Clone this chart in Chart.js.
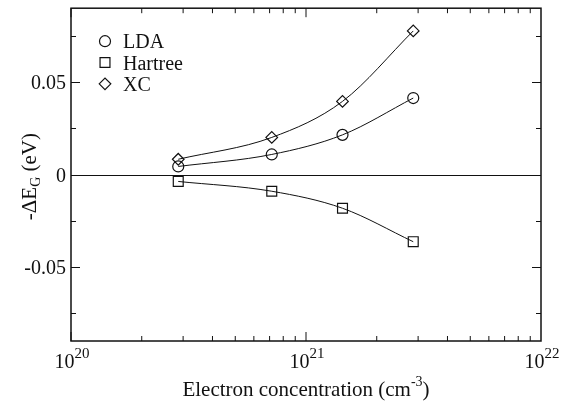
<!DOCTYPE html>
<html>
<head>
<meta charset="utf-8">
<title>Band gap shift vs electron concentration</title>
<script src="https://cdn.jsdelivr.net/npm/chart.js@4/dist/chart.umd.min.js"></script>
<style>
  html, body { margin: 0; padding: 0; background: #fff; }
  #wrap { width: 572px; height: 405px; }
  .fontwarm { font-family: "Liberation Serif"; position: absolute; left: -999px; top: 0; }
</style>
</head>
<body>
<span class="fontwarm">Electron ΔE 0.05</span>
<div id="wrap"><canvas id="gap-chart" width="572" height="405"></canvas></div>
<script>
// electron concentration (cm^-3) and band gap shift -dE_G (eV)
const concentration = [2.86e20, 7.15e20, 1.43e21, 2.86e21];
const ldaShift = [0.0044, 0.0109, 0.0215, 0.0414];
const hartreeShift = [-0.0037, -0.0090, -0.0182, -0.0363];
const xcShift = [0.0083, 0.0201, 0.0396, 0.0777];

const seriesNames = ['LDA', 'Hartree', 'XC'];
const seriesMarks = ['circle', 'rect', 'rectRot'];

// axis ticks
const xMajor = [1e20, 1e21, 1e22];
const xMajorExp = ['20', '21', '22'];
const yMajor = [-0.05, 0, 0.05];
const yMajorLabels = ['-0.05', '0', '0.05'];
const yMinor = [-0.075, -0.025, 0.025, 0.075];

const serif = '"Liberation Serif", "DejaVu Serif", serif';
const ink = '#111';

function points(ys) {
    return concentration.map((x, i) => ({ x: x, y: ys[i] }));
}

function makeSet(label, ys, style, radius) {
    return {
        label: label,
        data: points(ys),
        showLine: true,
        cubicInterpolationMode: 'monotone',
        borderColor: ink,
        borderWidth: 1,
        pointStyle: style,
        pointRadius: radius,
        pointBorderWidth: 1.2,
        pointBorderColor: ink,
        pointBackgroundColor: 'rgba(0,0,0,0)'
    };
}

// marker shapes for the legend (same geometry Chart.js uses)
function drawMark(ctx, style, x, y, r) {
    ctx.beginPath();
    if (style === 'circle') {
        ctx.arc(x, y, r, 0, Math.PI * 2);
    } else if (style === 'rect') {
        const s = Math.SQRT1_2 * r;
        ctx.rect(x - s, y - s, 2 * s, 2 * s);
    } else {
        ctx.moveTo(x - r, y);
        ctx.lineTo(x, y - r);
        ctx.lineTo(x + r, y);
        ctx.lineTo(x, y + r);
        ctx.closePath();
    }
    ctx.stroke();
}

// text with a raised or lowered part, returns total width
function richText(ctx, parts, x, y, measureOnly) {
    let cx = x;
    parts.forEach(p => {
        ctx.font = p.size + 'px ' + serif;
        if (!measureOnly) ctx.fillText(p.t, cx, y + (p.dy || 0));
        cx += ctx.measureText(p.t).width;
    });
    return cx - x;
}

const zeroLine = {
    id: 'zeroLine',
    beforeDatasetsDraw(chart) {
        const { ctx, chartArea, scales } = chart;
        const y0 = Math.round(scales.y.getPixelForValue(0)) + 0.5;
        ctx.save();
        ctx.strokeStyle = ink;
        ctx.lineWidth = 1;
        ctx.beginPath();
        ctx.moveTo(chartArea.left, y0);
        ctx.lineTo(chartArea.right, y0);
        ctx.stroke();
        ctx.restore();
    }
};

const frame = {
    id: 'frame',
    afterDatasetsDraw(chart) {
        const { ctx, chartArea: a, scales } = chart;
        const xs = scales.x, ys = scales.y;
        ctx.save();
        ctx.strokeStyle = ink;
        ctx.fillStyle = ink;

        // box
        ctx.lineWidth = 1.5;
        ctx.strokeRect(a.left, a.top, a.right - a.left, a.bottom - a.top);

        // inward ticks on all four sides
        ctx.lineWidth = 1;
        ctx.beginPath();
        for (let d = 20; d < 22; d++) {
            for (let m = 1; m <= 9; m++) {
                const v = m * Math.pow(10, d);
                const px = xs.getPixelForValue(v);
                const len = m === 1 ? 9 : 5;
                ctx.moveTo(px, a.bottom); ctx.lineTo(px, a.bottom - len);
                ctx.moveTo(px, a.top); ctx.lineTo(px, a.top + len);
            }
        }
        yMajor.concat(yMinor).forEach(v => {
            const py = Math.round(ys.getPixelForValue(v)) + 0.5;
            const len = yMajor.includes(v) ? 9 : 5;
            ctx.moveTo(a.left, py); ctx.lineTo(a.left + len, py);
            ctx.moveTo(a.right, py); ctx.lineTo(a.right - len, py);
        });
        ctx.stroke();

        // y tick labels
        ctx.font = '20px ' + serif;
        ctx.textAlign = 'right';
        ctx.textBaseline = 'alphabetic';
        yMajor.forEach((v, i) => {
            ctx.fillText(yMajorLabels[i], a.left - 5, ys.getPixelForValue(v) + 7);
        });

        // x tick labels 10^n
        ctx.textAlign = 'left';
        xMajor.forEach((v, i) => {
            const parts = [{ t: '10', size: 20 }, { t: xMajorExp[i], size: 15, dy: -10 }];
            const w = richText(ctx, parts, 0, 0, true);
            richText(ctx, parts, xs.getPixelForValue(v) - w / 2 + 1, a.bottom + 27);
        });

        // x axis title
        const xTitle = [
            { t: 'Electron concentration (cm', size: 21 },
            { t: '-3', size: 14, dy: -10 },
            { t: ')', size: 21 }
        ];
        const tw = richText(ctx, xTitle, 0, 0, true);
        richText(ctx, xTitle, (a.left + a.right) / 2 - tw / 2, a.bottom + 55);

        // y axis title, rotated
        const yTitle = [
            { t: '-\u0394E', size: 21 },
            { t: 'G', size: 14, dy: 4 },
            { t: ' (eV)', size: 21 }
        ];
        const th = richText(ctx, yTitle, 0, 0, true);
        ctx.translate(36, (a.top + a.bottom) / 2 + 2);
        ctx.rotate(-Math.PI / 2);
        richText(ctx, yTitle, -th / 2, 0);
        ctx.restore();

        // legend in the upper left corner
        ctx.save();
        ctx.strokeStyle = ink;
        ctx.fillStyle = ink;
        ctx.lineWidth = 1.2;
        ctx.font = '20px ' + serif;
        ctx.textBaseline = 'alphabetic';
        chart.data.datasets.forEach((ds, i) => {
            const cy = a.top + 33 + i * 21.3;
            drawMark(ctx, seriesMarks[i], a.left + 34, cy, ds.pointRadius);
            ctx.fillText(seriesNames[i], a.left + 52, cy + 7);
        });
        ctx.restore();
    }
};

function buildChart() {
    const ctx = document.getElementById('gap-chart').getContext('2d');
    return new Chart(ctx, {
        type: 'scatter',
        data: {
            datasets: [
                makeSet(seriesNames[0], ldaShift, seriesMarks[0], 5.5),
                makeSet(seriesNames[1], hartreeShift, seriesMarks[1], 7),
                makeSet(seriesNames[2], xcShift, seriesMarks[2], 5.8)
            ]
        },
        options: {
            responsive: false,
            animation: false,
            layout: { padding: { left: 71, right: 31, top: 4, bottom: 64 } },
            plugins: {
                legend: { display: false },
                tooltip: { enabled: false }
            },
            scales: {
                x: { type: 'logarithmic', min: 1e20, max: 1e22, display: false },
                y: { type: 'linear', min: -0.09, max: 0.09, display: false }
            }
        },
        plugins: [zeroLine, frame]
    });
}

// make sure the serif face is ready before the canvas text is drawn
let gapChart;
Promise.all([
    document.fonts.load('20px "Liberation Serif"'),
    document.fonts.load('14px "Liberation Serif"')
]).catch(() => null).then(() => { gapChart = buildChart(); });
</script>
</body>
</html>
